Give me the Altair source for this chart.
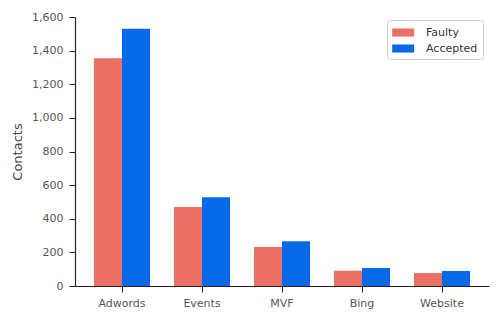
import altair as alt
import pandas as pd

sources = ["Adwords", "Events", "MVF", "Bing", "Website"]
faulty = [1355, 470, 232, 91, 77]
accepted = [1530, 528, 266, 107, 89]
series = ["Faulty", "Accepted"]
colors = ["#EB6F63", "#0569E9"]

rows = []
for s, f, a in zip(sources, faulty, accepted):
    rows.append({"source": s, "type": "Faulty", "value": f})
    rows.append({"source": s, "type": "Accepted", "value": a})
df = pd.DataFrame(rows)

font = "DejaVu Sans"

chart = alt.Chart(df).mark_bar().encode(
    x=alt.X("source:N", sort=sources, title=None,
            scale=alt.Scale(paddingInner=0.3, paddingOuter=0.2375),
            axis=alt.Axis(labelAngle=0, labelFontSize=11, labelColor="#555555",
                          labelFont=font, tickSize=6, tickColor="#222222",
                          domainColor="#222222", domainWidth=1.2, labelPadding=5)),
    xOffset=alt.XOffset("type:N", sort=series, scale=alt.Scale(paddingInner=0, paddingOuter=0)),
    y=alt.Y("value:Q", title="Contacts",
            scale=alt.Scale(domain=[0, 1600], nice=False),
            axis=alt.Axis(values=[0, 200, 400, 600, 800, 1000, 1200, 1400, 1600],
                          format=",.0f", grid=False, labelFontSize=11, labelColor="#555555",
                          labelFont=font, titleFont=font, titleFontSize=13,
                          titleFontWeight="normal", titleColor="#444444",
                          tickSize=6, tickColor="#222222", domainColor="#222222",
                          domainWidth=1.2, labelPadding=6, titlePadding=7)),
    color=alt.Color("type:N", sort=series,
                    scale=alt.Scale(domain=series, range=colors),
                    legend=alt.Legend(title=None, orient="none", legendX=312, legendY=3,
                                      symbolType="M-1,-0.55H2V0.55H-1Z", symbolSize=215,
                                      symbolStrokeWidth=0,
                                      labelFont=font, labelFontSize=11, labelColor="#333333",
                                      labelOffset=19,
                                      strokeColor="#cccccc", cornerRadius=3, padding=5,
                                      fillColor="white", rowPadding=3)),
).properties(
    width=414, height=269,
    autosize=alt.AutoSizeParams(type="none"),
    padding={"left": 75, "top": 17, "right": 11, "bottom": 35},
).configure_view(stroke=None)

chart.save("out.html", embed_options={"renderer": "svg", "actions": False})
